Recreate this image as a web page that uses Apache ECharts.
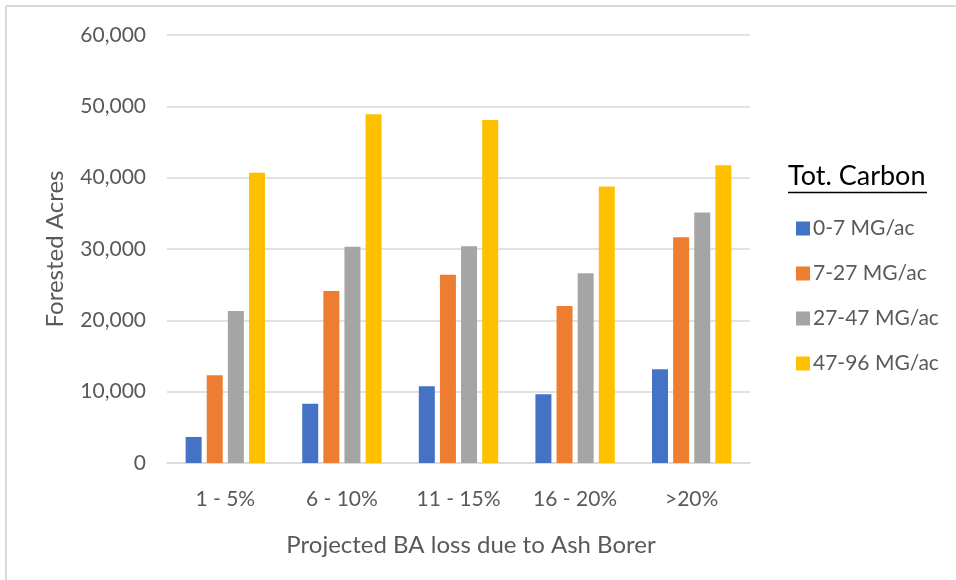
<!DOCTYPE html>
<html>
<head>
<meta charset="utf-8">
<script src="https://cdn.jsdelivr.net/npm/echarts@6/dist/echarts.min.js"></script>
<style>
  html, body { margin: 0; padding: 0; background: #ffffff; }
  #chart { width: 956px; height: 580px; }
</style>
</head>
<body>
<div id="chart"></div>
<script>
// Projected basal-area loss classes (x axis)
const categories = ['1 - 5%', '6 - 10%', '11 - 15%', '16 - 20%', '>20%'];

// Forested acres per total-carbon class
const carbon0to7 = [3650, 8300, 10750, 9650, 13150];
const carbon7to27 = [12300, 24100, 26400, 22000, 31650];
const carbon27to47 = [21300, 30300, 30400, 26600, 35100];
const carbon47to96 = [40700, 48900, 48100, 38750, 41750];

const seriesNames = ['0-7 MG/ac', '7-27 MG/ac', '27-47 MG/ac', '47-96 MG/ac'];
const seriesColors = ['#4472c4', '#ed7d31', '#a5a5a5', '#ffc000'];

const yTicks = [0, 10000, 20000, 30000, 40000, 50000, 60000];

const textColor = '#595959';
const fontFamily = 'Lato, "Open Sans", sans-serif';

const chart = echarts.init(document.getElementById('chart'), null, { renderer: 'canvas' });

const seriesData = [carbon0to7, carbon7to27, carbon27to47, carbon47to96];

chart.setOption({
  animation: false,
  backgroundColor: '#ffffff',
  textStyle: { fontFamily: fontFamily },
  grid: { left: 167, right: 206, top: 35, bottom: 117, containLabel: false },
  legend: {
    orient: 'vertical',
    left: 791,
    top: 213,
    itemWidth: 14,
    itemHeight: 14,
    itemGap: 24,
    icon: 'rect',
    data: seriesNames,
    textStyle: { color: textColor, fontSize: 21, fontFamily: fontFamily, padding: [0, 0, 0, -2] }
  },
  xAxis: {
    type: 'category',
    data: categories,
    axisLine: { show: true, lineStyle: { color: '#d9d9d9', width: 1.5 } },
    axisTick: { show: false },
    axisLabel: { color: textColor, fontSize: 21, margin: 26, fontFamily: fontFamily },
    name: 'Projected BA loss due to Ash Borer',
    nameLocation: 'middle',
    nameGap: 70,
    nameTextStyle: { color: textColor, fontSize: 24, fontFamily: fontFamily, padding: [0, 0, 0, 25] }
  },
  yAxis: {
    type: 'value',
    min: yTicks[0],
    max: yTicks[yTicks.length - 1],
    interval: yTicks[1] - yTicks[0],
    axisLine: { show: false },
    axisTick: { show: false },
    splitLine: { show: true, lineStyle: { color: '#d9d9d9', width: 1.5 } },
    axisLabel: {
      color: textColor,
      fontSize: 21,
      margin: 21,
      fontFamily: fontFamily,
      formatter: v => v.toLocaleString('en-US')
    },
    name: 'Forested Acres',
    nameLocation: 'middle',
    nameGap: 100,
    nameRotate: 90,
    nameTextStyle: { color: textColor, fontSize: 24, fontFamily: fontFamily }
  },
  series: seriesNames.map((name, i) => ({
    name: name,
    type: 'bar',
    data: seriesData[i],
    barWidth: 16,
    barGap: '32%',
    itemStyle: { color: seriesColors[i] }
  })),
  graphic: [
    // outer frame of the chart area (top and left edges)
    { type: 'line', shape: { x1: 6, y1: 6, x2: 956, y2: 6 }, style: { stroke: '#d9d9d9', lineWidth: 2 } },
    { type: 'line', shape: { x1: 6, y1: 6, x2: 6, y2: 580 }, style: { stroke: '#d9d9d9', lineWidth: 2 } },
    // legend heading with underline
    {
      type: 'text',
      left: 788,
      top: 163,
      style: { text: 'Tot. Carbon', fill: '#000000', font: '27px ' + fontFamily }
    },
    { type: 'line', shape: { x1: 788, y1: 192.5, x2: 927, y2: 192.5 }, style: { stroke: '#000000', lineWidth: 1.5 } }
  ]
});
</script>
</body>
</html>
